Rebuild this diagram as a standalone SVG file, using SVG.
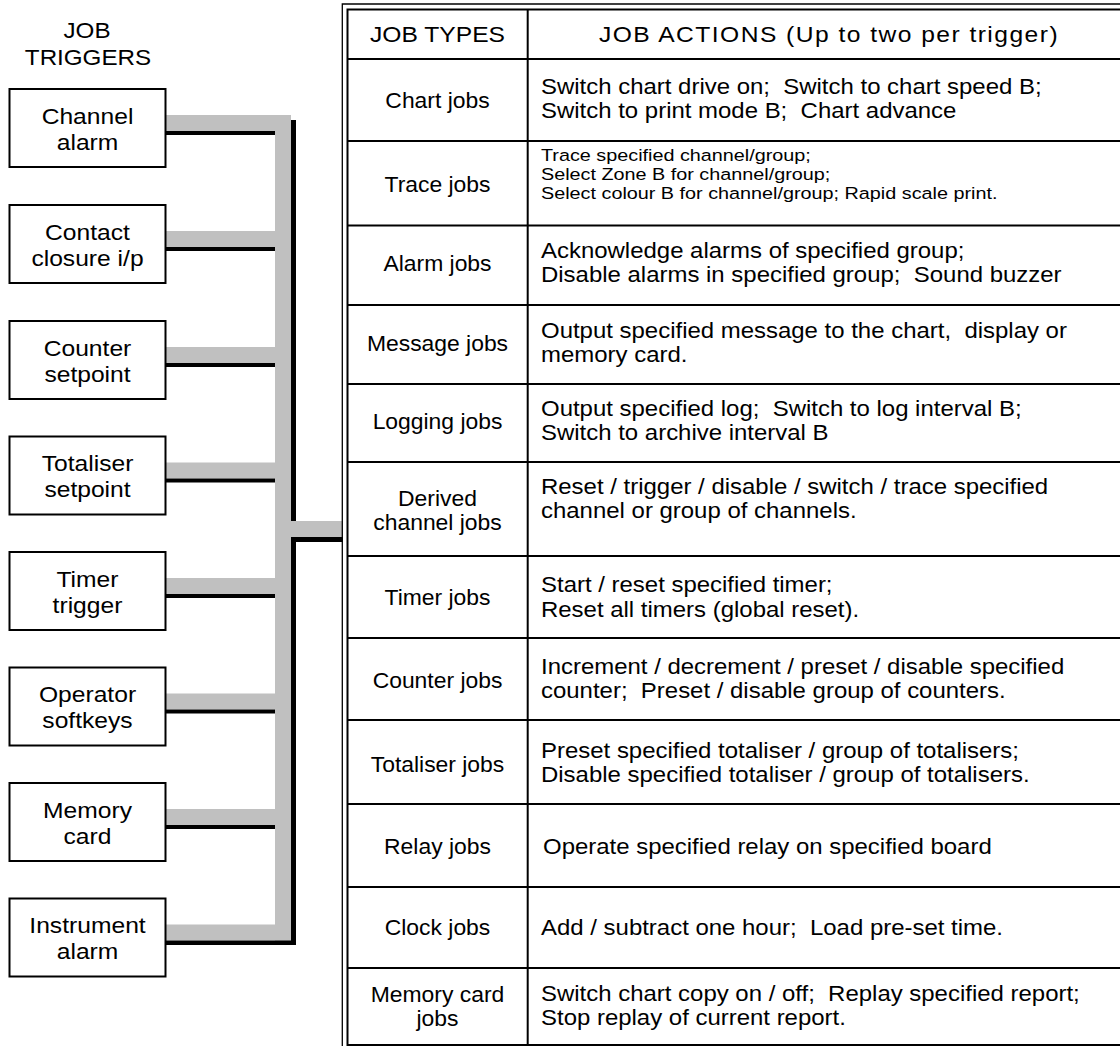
<svg xmlns="http://www.w3.org/2000/svg" width="1120" height="1046" viewBox="0 0 1120 1046" xml:space="preserve">
<style>
text{font-family:"Liberation Sans",Arial,sans-serif;font-size:22px;fill:#000;white-space:pre}
.c{text-anchor:middle}
.m{font-size:21.5px}
.s{font-size:17px}
.box{fill:#fff;stroke:#000;stroke-width:2}
.g{fill:#c0c0c0}
.k{fill:#000}
.ln{stroke:#000;stroke-width:2;fill:none}
.thin{stroke:#000;stroke-width:1.3;fill:none}
</style>
<rect width="1120" height="1046" fill="#fff"/>
<g id="title"><text class="c" transform="matrix(1.1 0 0 1 87 0)" y="38">JOB</text><text class="c" transform="matrix(1.1 0 0 1 88 0)" y="65">TRIGGERS</text></g>
<g id="connectors">
<rect class="g" x="275" y="115" width="16" height="826"/>
<rect class="k" x="291" y="120" width="5" height="401"/>
<rect class="k" x="291" y="537" width="5" height="408"/>
<rect class="g" x="291" y="521" width="52" height="16"/>
<rect class="k" x="291" y="537" width="52" height="5"/>
<rect class="g" x="166" y="115" width="125" height="16"/><rect class="k" x="166" y="131" width="109" height="4"/>
<rect class="g" x="166" y="231" width="109" height="16"/><rect class="k" x="166" y="247" width="109" height="4"/>
<rect class="g" x="166" y="347" width="109" height="16"/><rect class="k" x="166" y="363" width="109" height="4"/>
<rect class="g" x="166" y="462.5" width="109" height="16"/><rect class="k" x="166" y="478.5" width="109" height="4"/>
<rect class="g" x="166" y="578" width="109" height="16"/><rect class="k" x="166" y="594" width="109" height="4"/>
<rect class="g" x="166" y="693.5" width="109" height="16"/><rect class="k" x="166" y="709.5" width="109" height="4"/>
<rect class="g" x="166" y="809" width="109" height="16"/><rect class="k" x="166" y="825" width="109" height="4"/>
<rect class="g" x="166" y="924.5" width="125" height="16"/><rect class="k" x="166" y="940.5" width="130" height="4.5"/>
</g>
<g id="trigger-channel-alarm"><rect class="box" x="9.5" y="89" width="156" height="78"/><text class="c" transform="matrix(1.12 0 0 1 87.5 0)" y="124">Channel</text><text class="c" transform="matrix(1.12 0 0 1 87.5 0)" y="150">alarm</text></g>
<g id="trigger-contact-closure"><rect class="box" x="9.5" y="205" width="156" height="78"/><text class="c" transform="matrix(1.12 0 0 1 87.5 0)" y="240">Contact</text><text class="c" transform="matrix(1.12 0 0 1 87.5 0)" y="266">closure i/p</text></g>
<g id="trigger-counter-setpoint"><rect class="box" x="9.5" y="321" width="156" height="78"/><text class="c" transform="matrix(1.12 0 0 1 87.5 0)" y="356">Counter</text><text class="c" transform="matrix(1.12 0 0 1 87.5 0)" y="382">setpoint</text></g>
<g id="trigger-totaliser-setpoint"><rect class="box" x="9.5" y="436.5" width="156" height="78"/><text class="c" transform="matrix(1.12 0 0 1 87.5 0)" y="471.5">Totaliser</text><text class="c" transform="matrix(1.12 0 0 1 87.5 0)" y="497.5">setpoint</text></g>
<g id="trigger-timer"><rect class="box" x="9.5" y="552" width="156" height="78"/><text class="c" transform="matrix(1.12 0 0 1 87.5 0)" y="587">Timer</text><text class="c" transform="matrix(1.12 0 0 1 87.5 0)" y="613">trigger</text></g>
<g id="trigger-operator-softkeys"><rect class="box" x="9.5" y="667.5" width="156" height="78"/><text class="c" transform="matrix(1.12 0 0 1 87.5 0)" y="702.5">Operator</text><text class="c" transform="matrix(1.12 0 0 1 87.5 0)" y="728.5">softkeys</text></g>
<g id="trigger-memory-card"><rect class="box" x="9.5" y="783" width="156" height="78"/><text class="c" transform="matrix(1.12 0 0 1 87.5 0)" y="818">Memory</text><text class="c" transform="matrix(1.12 0 0 1 87.5 0)" y="844">card</text></g>
<g id="trigger-instrument-alarm"><rect class="box" x="9.5" y="898.5" width="156" height="78"/><text class="c" transform="matrix(1.12 0 0 1 87.5 0)" y="933.5">Instrument</text><text class="c" transform="matrix(1.12 0 0 1 87.5 0)" y="959.5">alarm</text></g>
<g id="table">
<path class="thin" d="M1121 4H342.3V1047"/>
<path class="ln" d="M1121 9.5H347.5V1047"/>
<path class="ln" d="M347.5 59H1121M347.5 141H1121M347.5 225.5H1121M347.5 305H1121M347.5 384H1121M347.5 462H1121M347.5 556H1121M347.5 638H1121M347.5 720H1121M347.5 804H1121M347.5 887H1121M347.5 968H1121M347.5 1045H1121"/>
<path class="ln" d="M527.7 9.5V1045"/>
<g id="col-types">
<text class="c" transform="matrix(1.12 0 0 1 437.5 0)" y="42">JOB TYPES</text>
<g transform="matrix(1.065 0 0 1 437.5 0)">
<text class="c m" x="0" y="108">Chart jobs</text>
<text class="c m" x="0" y="192">Trace jobs</text>
<text class="c m" x="0" y="271">Alarm jobs</text>
<text class="c m" x="0" y="351">Message jobs</text>
<text class="c m" x="0" y="429">Logging jobs</text>
<text class="c m" x="0" y="506">Derived</text>
<text class="c m" x="0" y="530.5">channel jobs</text>
<text class="c m" x="0" y="605">Timer jobs</text>
<text class="c m" x="0" y="688">Counter jobs</text>
<text class="c m" x="0" y="772">Totaliser jobs</text>
<text class="c m" x="0" y="854">Relay jobs</text>
<text class="c m" x="0" y="935">Clock jobs</text>
<text class="c m" x="0" y="1002">Memory card</text>
<text class="c m" x="0" y="1026.5">jobs</text>
</g>
</g>
<g id="col-actions">
<text class="c" transform="matrix(1.12 0 0 1 829 0)" y="42" letter-spacing="1.3">JOB ACTIONS (Up to two per trigger)</text>
<g transform="matrix(1.115 0 0 1 541 0)">
<text class="m" x="0" y="94">Switch chart drive on;  Switch to chart speed B;</text>
<text class="m" x="0" y="118.5">Switch to print mode B;  Chart advance</text>
<text class="m" x="0" y="258">Acknowledge alarms of specified group;</text>
<text class="m" x="0" y="282.5">Disable alarms in specified group;  Sound buzzer</text>
<text class="m" x="0" y="338">Output specified message to the chart,  display or</text>
<text class="m" x="0" y="362.5">memory card.</text>
<text class="m" x="0" y="416">Output specified log;  Switch to log interval B;</text>
<text class="m" x="0" y="440.5">Switch to archive interval B</text>
<text class="m" x="0" y="494">Reset / trigger / disable / switch / trace specified</text>
<text class="m" x="0" y="518.5">channel or group of channels.</text>
<text class="m" x="0" y="592.5">Start / reset specified timer;</text>
<text class="m" x="0" y="617">Reset all timers (global reset).</text>
<text class="m" x="0" y="674">Increment / decrement / preset / disable specified</text>
<text class="m" x="0" y="698.5">counter;  Preset / disable group of counters.</text>
<text class="m" x="0" y="758">Preset specified totaliser / group of totalisers;</text>
<text class="m" x="0" y="782.5">Disable specified totaliser / group of totalisers.</text>
<text class="m" x="1.8" y="854">Operate specified relay on specified board</text>
<text class="m" x="0" y="935">Add / subtract one hour;  Load pre-set time.</text>
<text class="m" x="0" y="1001">Switch chart copy on / off;  Replay specified report;</text>
<text class="m" x="0" y="1025.5">Stop replay of current report.</text>
</g>
<g transform="matrix(1.165 0 0 1 541 0)">
<text class="s" x="0" y="161.5">Trace specified channel/group;</text>
<text class="s" x="0" y="180.5">Select Zone B for channel/group;</text>
<text class="s" x="0" y="199.5">Select colour B for channel/group; Rapid scale print.</text>
</g>
</g>
</g>
</svg>
